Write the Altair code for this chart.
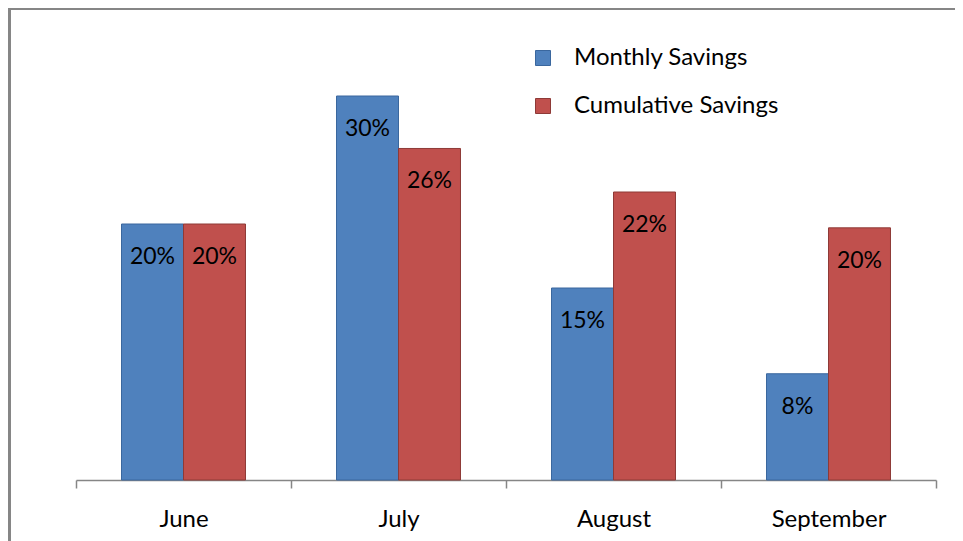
import altair as alt
import pandas as pd

months = ["June", "July", "August", "September"]
series = ["Monthly Savings", "Cumulative Savings"]
monthly = [20.0, 30.0, 15.0, 8.3]
cumulative = [20.0, 25.9, 22.5, 19.7]
labels_monthly = ["20%", "30%", "15%", "8%"]
labels_cumulative = ["20%", "26%", "22%", "20%"]

rows = []
for i, m in enumerate(months):
    rows.append({"month": m, "series": series[0], "value": monthly[i], "label": labels_monthly[i]})
    rows.append({"month": m, "series": series[1], "value": cumulative[i], "label": labels_cumulative[i]})
df = pd.DataFrame(rows)

FONT = "Lato"

x = alt.X("month:N", sort=months, title=None,
          scale=alt.Scale(paddingInner=0, paddingOuter=0),
          axis=alt.Axis(labelAngle=0, domainColor="#868686", domainWidth=1.5,
                        tickColor="#868686", tickWidth=1.5, tickSize=8,
                        tickBand="extent", labelFontSize=24, labelFont=FONT,
                        labelColor="#000000", labelPadding=19, grid=False))
xo = alt.XOffset("series:N", sort=series,
                 scale=alt.Scale(paddingInner=0, paddingOuter=0.734))
y = alt.Y("value:Q", axis=None, scale=alt.Scale(domain=[0, 35.625], nice=False, zero=True))

color = alt.Color("series:N", sort=series, title=None,
                  scale=alt.Scale(domain=series, range=["#4F81BD", "#C0504D"]),
                  legend=alt.Legend(orient="none", legendX=455, legendY=22,
                                    symbolType="square", symbolSize=225,
                                    symbolStrokeWidth=1, labelFontSize=24,
                                    labelFont=FONT, labelColor="#000000",
                                    labelOffset=19, rowPadding=24, labelLimit=0))
stroke = alt.Stroke("series:N", sort=series, legend=None,
                    scale=alt.Scale(domain=series, range=["#3A679E", "#8E3A37"]))

bars = alt.Chart(df).mark_bar(strokeWidth=1).encode(
    x=x, xOffset=xo, y=y, color=color, stroke=stroke)

text = alt.Chart(df).mark_text(baseline="middle", align="center", dy=33,
                               fontSize=23, font=FONT, color="#000000").encode(
    x=x, xOffset=xo, y=y, text="label:N")

frame = alt.Chart(df).mark_rect(fill=None, stroke="#868686", strokeWidth=2).encode(
    x=alt.value(-66.5), x2=alt.value(1000), y=alt.value(-15), y2=alt.value(700))

chart = alt.layer(frame, bars, text).properties(
    width=860, height=456,
    autosize=alt.AutoSizeParams(type="none"),
    padding={"left": 68, "top": 16, "right": 19, "bottom": 61},
).configure_view(stroke=None)

chart.save("out.html", embed_options={"renderer": "svg", "actions": False})
